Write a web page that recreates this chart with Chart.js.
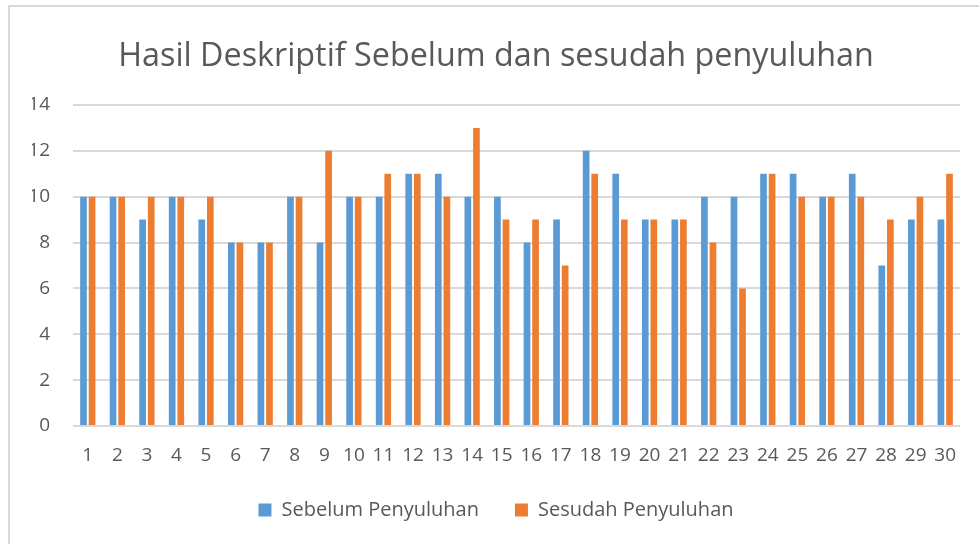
<!DOCTYPE html>
<html>
<head>
<meta charset="utf-8">
<script src="https://cdn.jsdelivr.net/npm/chart.js@4"></script>
<style>
  html, body { margin: 0; padding: 0; background: #fff; }
  #wrap { position: relative; width: 979px; height: 544px; overflow: hidden; }
  #frame { position: absolute; left: 8px; top: 5px; width: 1000px; height: 600px; border-left: 2px solid #d9d9d9; border-top: 2px solid #d9d9d9; box-sizing: border-box; pointer-events: none; }
  canvas { position: absolute; left: 0; top: 0; }
</style>
</head>
<body>
<div id="wrap">
  <canvas id="c" width="979" height="544"></canvas>
  <div id="frame"></div>
</div>
<script>
const categories = ["1","2","3","4","5","6","7","8","9","10","11","12","13","14","15","16","17","18","19","20","21","22","23","24","25","26","27","28","29","30"];
const sebelum = [10,10,9,10,9,8,8,10,8,10,10,11,11,10,10,8,9,12,11,9,9,10,10,11,11,10,11,7,9,9];
const sesudah = [10,10,10,10,10,8,8,10,12,10,11,11,10,13,9,9,7,11,9,9,9,8,6,11,10,10,10,9,10,11];
const yTicks = [0,2,4,6,8,10,12,14];
const titleText = "Hasil Deskriptif Sebelum dan sesudah penyuluhan";
const seriesNames = ["Sebelum Penyuluhan", "Sesudah Penyuluhan"];

const FONT = "'Open Sans', 'Noto Sans', sans-serif";
const TXT = "#595959";

new Chart(document.getElementById('c'), {
  type: 'bar',
  data: {
    labels: categories,
    datasets: [
      { label: seriesNames[0], data: sebelum, backgroundColor: '#5B9BD5', categoryPercentage: 0.58, barPercentage: 0.78 },
      { label: seriesNames[1], data: sesudah, backgroundColor: '#ED7D31', categoryPercentage: 0.58, barPercentage: 0.78 }
    ]
  },
  options: {
    responsive: false,
    animation: false,
    layout: { padding: { left: 32, right: 19, top: 6, bottom: 14 } },
    plugins: {
      title: {
        display: true, text: titleText, color: TXT,
        font: { family: FONT, size: 32.3, weight: 'normal' },
        padding: { top: 31, bottom: 29.2 }
      },
      legend: {
        position: 'bottom',
        labels: {
          color: TXT, font: { family: FONT, size: 20 },
          boxWidth: 13, boxHeight: 13, padding: 36
        }
      },
      tooltip: { enabled: false }
    },
    scales: {
      x: {
        grid: { display: false, drawTicks: false },
        border: { display: false },
        ticks: { color: TXT, font: { family: FONT, size: 19 }, padding: 18, maxRotation: 0, autoSkip: false },
        afterFit: (s) => { s.height = 38; }
      },
      y: {
        min: 0, max: 14,
        afterBuildTicks: (s) => { s.ticks = yTicks.map(v => ({ value: v })); },
        grid: { color: '#d9d9d9', lineWidth: 2, drawTicks: false },
        border: { display: false },
        ticks: { color: TXT, font: { family: FONT, size: 19 }, padding: 23 },
        afterFit: (s) => { s.width = 41; }
      }
    }
  }
});
</script>
</body>
</html>
